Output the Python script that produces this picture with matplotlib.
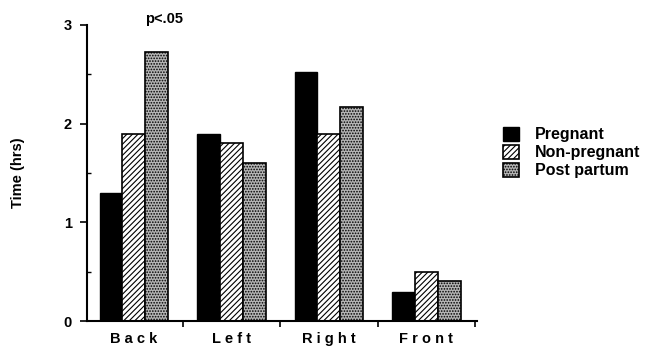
import numpy as np
import matplotlib.pyplot as plt

# positions of the baby and time spent (hrs)
positions = ["Back", "Left", "Right", "Front"]
pregnant = [1.30, 1.90, 2.52, 0.29]
non_pregnant = [1.90, 1.80, 1.90, 0.50]
post_partum = [2.73, 1.60, 2.17, 0.41]

plt.rcParams['font.family'] = ['Liberation Sans', 'DejaVu Sans']
plt.rcParams['font.weight'] = 'bold'
plt.rcParams['hatch.linewidth'] = 0.8

fig = plt.figure(figsize=(6.5, 3.46), dpi=100)
ax = fig.add_axes([0.134, 0.072, 0.6, 0.856])

x = np.arange(len(positions))
w = 0.235

ax.bar(x - w, pregnant, w, color="black", edgecolor="black", label="Pregnant")
ax.bar(x, non_pregnant, w, color="white", edgecolor="black", hatch="//////",
       linewidth=1.2, label="Non-pregnant")
ax.bar(x + w, post_partum, w, color="#b5b5b5", edgecolor="black", hatch="......",
       linewidth=1.2, label="Post partum")

ax.set_xlim(-0.48, 3.52)
ax.set_ylim(0, 3)

# y axis
ax.set_yticks([0, 1, 2, 3])
ax.set_yticks([0.5, 1.5, 2.5], minor=True)
ax.tick_params(axis='y', which='major', direction='out', length=5, width=1.2,
               labelsize=10.5, pad=6)
ax.tick_params(axis='y', which='minor', direction='in', length=3, width=1)
ax.set_ylabel("Time (hrs)", fontsize=10.5, fontweight='bold', labelpad=28)

# x axis: category labels with ticks between groups
ax.set_xticks(x)
ax.set_xticklabels(["B a c k", "L e f t", "R i g h t", "F r o n t"], fontsize=10.5)
ax.tick_params(axis='x', which='major', length=0, pad=8)
ax.set_xticks([0.5, 1.5, 2.5, 3.5], minor=True)
ax.tick_params(axis='x', which='minor', direction='out', length=4, width=1.2)

for s in ["top", "right"]:
    ax.spines[s].set_visible(False)
for s in ["left", "bottom"]:
    ax.spines[s].set_linewidth(1.5)

ax.text(0.31, 3.06, "p<.05", ha='center', va='center', fontsize=10.5, fontweight='bold')

leg = ax.legend(loc='upper left', bbox_to_anchor=(1.03, 0.705), frameon=False,
                fontsize=11.5, handlelength=1.0, handleheight=1.0,
                handletextpad=1.0, labelspacing=0.15)

fig.savefig("out.png", dpi=100)
